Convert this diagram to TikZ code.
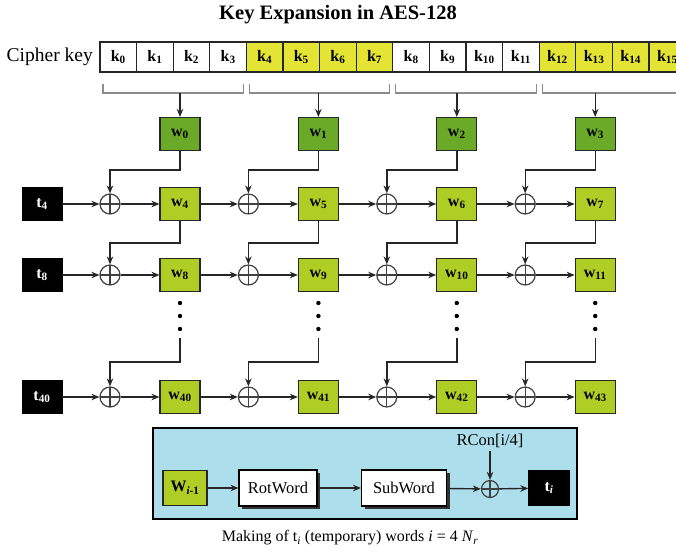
\documentclass[tikz,border=0pt]{standalone}
\usepackage{fontspec}
\setmainfont{Liberation Serif}
\usetikzlibrary{arrows.meta,calc,shadows}
\definecolor{keyyel}{RGB}{228,228,52}
\definecolor{wdark}{RGB}{106,170,40}
\definecolor{wlight}{RGB}{174,206,38}
\definecolor{panelblue}{RGB}{172,222,236}
\begin{document}
\begin{tikzpicture}[x=1pt,y=-1pt,
  keybox/.style={draw=black!85, line width=1.1, minimum width=36.6, minimum height=30, inner sep=0, font=\fontsize{16}{16}\selectfont\bfseries},
  wbox/.style={draw=black!85, line width=1.1, minimum width=40, minimum height=33, inner sep=0, font=\fontsize{16}{16}\selectfont\bfseries},
  tbox/.style={draw=black, fill=black, text=white, minimum width=40, minimum height=33, inner sep=0, font=\fontsize{16}{16}\selectfont\bfseries},
  xorn/.style={circle, draw=black!75, line width=1.2, minimum size=20, inner sep=0,
    path picture={\draw[black!75, line width=1.1] (path picture bounding box.north) -- (path picture bounding box.south) (path picture bounding box.west) -- (path picture bounding box.east);}},
  arr/.style={-{Stealth[length=8pt,width=6.5pt]}, line width=1.4, draw=black!85},
  brk/.style={draw=black!45, line width=1.1},
  wordbox/.style={draw=black, fill=white, line width=1.1, minimum height=36, inner sep=0, font=\fontsize{16.5}{16.5}\selectfont,
    drop shadow={shadow xshift=3pt, shadow yshift=-3pt, fill=black!80, opacity=1}}
]
\useasboundingbox (0,0) rectangle (676,553);
% title
\node[font=\fontsize{20.5}{24}\selectfont\bfseries] (title) at (338,15) {Key Expansion in AES-128};
% cipher key
\node[font=\fontsize{19.5}{20}\selectfont, anchor=east, inner sep=0] (ck) at (93,57) {Cipher key};
\foreach \i in {0,1,2,3,8,9,10,11} {
  \node[keybox, fill=white] (k\i) at ({100+36.6*(\i+0.5)},57) {k\textsubscript{\i}};
}
\foreach \i in {4,5,6,7,12,13,14,15} {
  \node[keybox, fill=keyyel] (k\i) at ({100+36.6*(\i+0.5)},57) {k\textsubscript{\i}};
}
% brackets
\foreach \g in {0,1,2,3} {
  \draw[brk] ({100+146.4*\g+3},84) -- ({100+146.4*\g+3},93) -- ({100+146.4*(\g+1)-3},93) -- ({100+146.4*(\g+1)-3},84);
}
% first row of words
\foreach \j in {0,1,2,3} {
  \node[wbox, fill=wdark] (w\j) at ({180+138.4*\j},134) {w\textsubscript{\j}};
  \coordinate (b\j) at ({180+138.4*\j},93);
  \draw[arr] (b\j) -- (w\j.north);
}
% rows
\foreach \y/\base in {204/4, 275/8, 397/40} {
  \node[tbox] (t\base) at (42,\y) {t\textsubscript{\base}};
  \foreach \j in {0,1,2,3} {
    \pgfmathtruncatemacro\n{\base+\j}
    \node[xorn] (x\n) at ({110+138.4*\j},\y) {};
    \node[wbox, fill=wlight] (w\n) at ({180+138.4*\j},\y) {w\textsubscript{\n}};
  }
  \draw[arr] (t\base) -- (x\base);
}
\foreach \base in {4,8,40} {
  \foreach \j in {0,1,2,3} {
    \pgfmathtruncatemacro\n{\base+\j}
    \draw[arr] (x\n) -- (w\n);
  }
  \foreach \j in {0,1,2} {
    \pgfmathtruncatemacro\n{\base+\j}
    \pgfmathtruncatemacro\m{\base+\j+1}
    \draw[arr] (w\n) -- (x\m);
  }
}
% vertical feeds
\coordinate (h1) at (0,170);
\coordinate (h2) at (0,243);
\coordinate (h3) at (0,362);
\foreach \j in {0,1,2,3} {
  \pgfmathtruncatemacro\a{4+\j}
  \pgfmathtruncatemacro\b{8+\j}
  \pgfmathtruncatemacro\c{40+\j}
  \draw[arr] (w\j.south) -- (w\j.south |- h1) -- (x\a.north |- h1) -- (x\a.north);
  \draw[arr] (w\a.south) -- (w\a.south |- h2) -- (x\b.north |- h2) -- (x\b.north);
  \coordinate (d\j) at ({180+138.4*\j},338);
  \draw[arr] (d\j) -- (d\j |- h3) -- (x\c.north |- h3) -- (x\c.north);
  \foreach \yy in {303,316,329} {
    \fill ({180+138.4*\j},\yy) circle (2.2);
  }
}
% bottom panel
\node[draw=black, fill=panelblue, line width=1.5, minimum width=424, minimum height=91, inner sep=0] (panel) at (365,473.5) {};
\node[wbox, fill=wlight, minimum width=44, minimum height=35] (wi) at (185,488) {W\textsubscript{\textit{i}-1}};
\node[wordbox, minimum width=78] (rot) at (278,488) {RotWord};
\node[wordbox, minimum width=85] (sub) at (404,488) {SubWord};
\node[xorn, minimum size=17] (xr) at (490,489) {};
\node[tbox, minimum width=41, minimum height=35] (ti) at (549,488) {t\textsubscript{\textit{i}}};
\node[font=\fontsize{16.5}{17}\selectfont] (rcon) at (490,441) {RCon[i/4]};
\draw[arr] (wi) -- (rot);
\draw[arr] (rot) -- (sub);
\draw[arr] (sub) -- (xr);
\draw[arr] (xr) -- (ti);
\draw[arr] (rcon) -- (xr);
\node[font=\fontsize{16}{17}\selectfont] (cap) at (350,538) {Making of t\textsubscript{\textit{i}} (temporary) words \textit{i} = 4 \textit{N}\textsubscript{\textit{r}}};
\end{tikzpicture}
\end{document}
